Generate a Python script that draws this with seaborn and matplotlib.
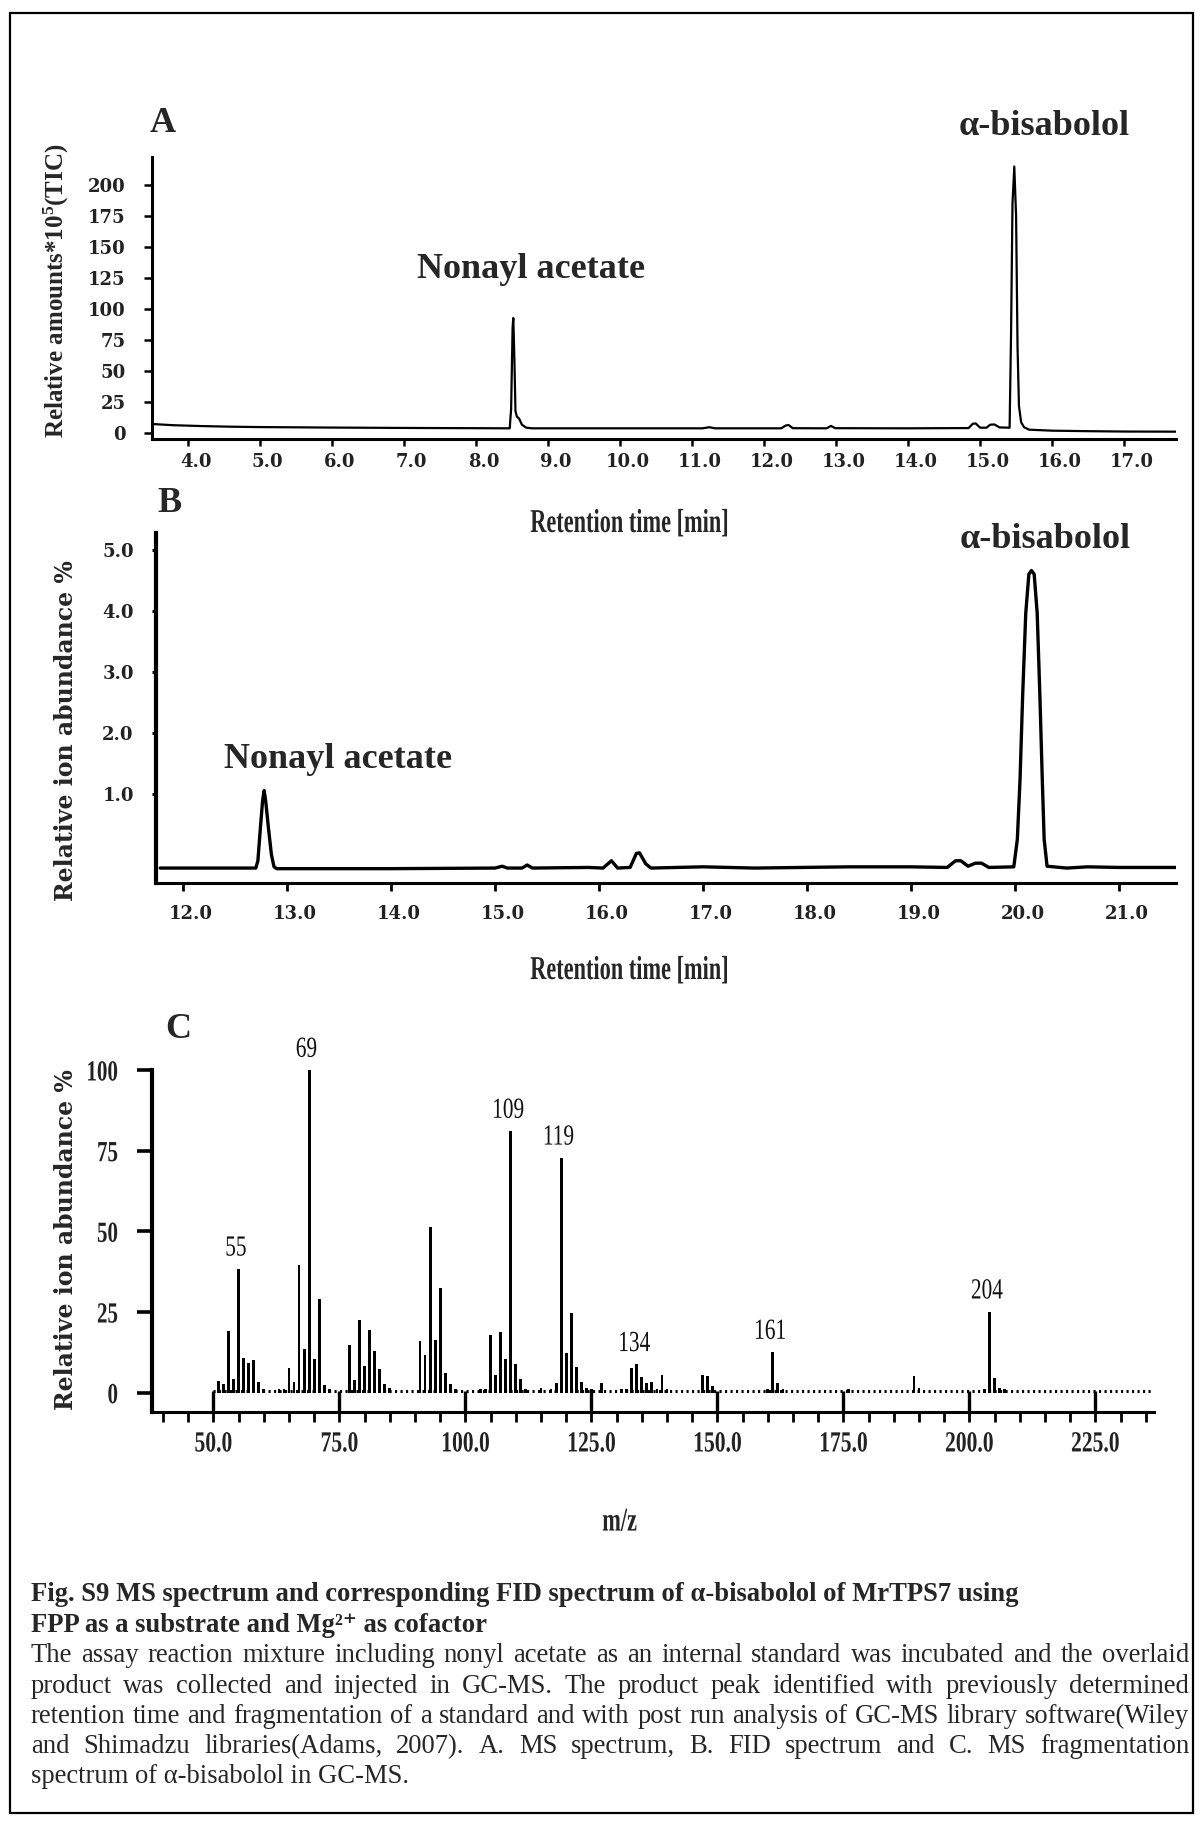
import numpy as np
import matplotlib
matplotlib.use("Agg")
import matplotlib.pyplot as plt
import matplotlib.transforms as mtransforms
from matplotlib.patheffects import AbstractPathEffect
from matplotlib.patches import Rectangle
from matplotlib.path import Path
import seaborn as sns

# ---------------- data ----------------
# A: GC-MS total ion chromatogram (retention time [min], relative amount x10^5)
tic_time = [3.50, 3.80, 4.20, 4.60, 5.00, 6.00, 7.00, 8.00, 8.47, 8.49, 8.51, 8.52,
            8.535, 8.55, 8.57, 8.60, 8.64, 8.70, 8.78, 9.50, 10.50, 11.15, 11.24, 11.32,
            12.24, 12.30, 12.34, 12.40, 12.87, 12.93, 12.99, 14.00, 14.84, 14.90, 14.94,
            15.00, 15.09, 15.14, 15.20, 15.27, 15.41, 15.43, 15.45, 15.475, 15.50, 15.52,
            15.54, 15.57, 15.61, 15.68, 16.00, 16.50, 17.00, 17.72]
tic_signal = [7.6, 6.6, 5.9, 5.4, 5.1, 4.7, 4.4, 4.2, 4.1, 20.0, 85.0, 93.0,
              60.0, 18.0, 13.5, 12.0, 7.0, 4.6, 4.1, 4.1, 4.1, 4.1, 5.0, 4.1,
              4.1, 6.3, 6.8, 4.2, 4.1, 6.0, 4.2, 4.1, 4.3, 7.8, 8.0,
              4.6, 4.6, 7.0, 7.2, 4.8, 4.6, 80.0, 185.0, 215.0, 175.0, 70.0,
              22.0, 9.0, 5.0, 3.0, 2.2, 1.8, 1.5, 1.4]

# B: FID chromatogram (retention time [min], relative ion abundance %)
fid_time = [11.78, 12.50, 12.70, 12.72, 12.745, 12.765, 12.78, 12.795, 12.82, 12.85,
            12.875, 12.90, 14.00, 15.00, 15.07, 15.12, 15.26, 15.31, 15.36, 15.90,
            16.04, 16.12, 16.18, 16.30, 16.36, 16.39, 16.45, 16.50, 17.00, 17.50,
            18.40, 19.00, 19.35, 19.43, 19.48, 19.55, 19.62, 19.68, 19.75, 19.99,
            20.024, 20.05, 20.075, 20.105, 20.135, 20.16, 20.186, 20.215, 20.241,
            20.264, 20.282, 20.31, 20.50, 20.70, 21.00, 21.55]
fid_signal = [-0.22, -0.22, -0.22, -0.10, 0.46, 0.88, 1.05, 0.88, 0.46, 0.00,
              -0.20, -0.23, -0.23, -0.22, -0.19, -0.22, -0.22, -0.17, -0.22, -0.21,
              -0.22, -0.10, -0.22, -0.21, 0.02, 0.03, -0.15, -0.22, -0.20, -0.22,
              -0.20, -0.20, -0.21, -0.10, -0.10, -0.19, -0.14, -0.14, -0.21, -0.20,
              0.25, 1.23, 2.60, 3.96, 4.60, 4.66, 4.60, 3.96, 2.60,
              1.23, 0.25, -0.19, -0.22, -0.20, -0.21, -0.21]

# C: mass spectrum of alpha-bisabolol (m/z, relative ion abundance %)
ms_mz = [51, 52, 53, 54, 55, 56, 57, 58, 59, 60, 63, 64, 65, 66, 67, 68, 69, 70, 71,
         72, 73, 77, 78, 79, 80, 81, 82, 83, 84, 85, 91, 92, 93, 94, 95, 96, 97, 98,
         103, 104, 105, 106, 107, 108, 109, 110, 111, 112, 115, 117, 118, 119, 120,
         121, 122, 123, 124, 125, 127, 131, 132, 133, 134, 135, 136, 137, 138, 139,
         140, 147, 148, 149, 160, 161, 162, 163, 176, 189, 190, 203, 204, 205, 206, 207]
ms_abundance = [3.6, 2.6, 19.0, 4.1, 38.4, 10.8, 9.3, 10.0, 3.3, 1.0, 1.2, 1.0, 7.7,
                3.3, 39.6, 13.4, 100.0, 10.3, 29.0, 2.3, 1.0, 14.7, 3.9, 22.4, 8.3,
                19.3, 12.9, 7.4, 2.6, 1.5, 16.0, 11.6, 51.4, 16.3, 32.3, 6.2, 2.6, 1.0,
                1.0, 1.0, 18.0, 5.6, 18.8, 10.3, 81.1, 8.8, 4.3, 1.0, 1.5, 1.2, 2.9,
                72.8, 12.2, 24.8, 8.0, 3.3, 1.5, 1.2, 3.1, 1.0, 1.2, 7.7, 8.8, 4.9,
                3.1, 3.3, 1.2, 5.6, 1.0, 5.4, 5.2, 2.0, 1.0, 12.6, 3.1, 1.0, 1.0, 5.2,
                1.5, 1.2, 25.1, 4.6, 1.5, 1.0]
ms_labeled = [55, 69, 109, 119, 134, 161, 204]

# axis ticks and limits
a_xticks = [4.0, 5.0, 6.0, 7.0, 8.0, 9.0, 10.0, 11.0, 12.0, 13.0, 14.0, 15.0, 16.0, 17.0]
a_xticklabels = ["4.0", "5.0", "6.0", "7.0", "8.0", "9.0", "10.0", "11.0", "12.0",
                 "13.0", "14.0", "15.0", "16.0", "17.0"]
a_yticks = [0, 25, 50, 75, 100, 125, 150, 175, 200]
a_yticklabels = ["0", "25", "50", "75", "100", "125", "150", "175", "200"]
a_xlim = (3.5, 17.72)
a_ylim = (-4.75, 222.9)

b_xticks = [12.0, 13.0, 14.0, 15.0, 16.0, 17.0, 18.0, 19.0, 20.0, 21.0]
b_xticklabels = ["12.0", "13.0", "14.0", "15.0", "16.0", "17.0", "18.0", "19.0",
                 "20.0", "21.0"]
b_yticks = [1.0, 2.0, 3.0, 4.0, 5.0]
b_yticklabels = ["1.0", "2.0", "3.0", "4.0", "5.0"]
b_xlim = (11.74, 21.55)
b_ylim = (-0.47, 5.28)

c_xticks = [50, 75, 100, 125, 150, 175, 200, 225]
c_xticklabels = ["50.0", "75.0", "100.0", "125.0", "150.0", "175.0", "200.0", "225.0"]
c_xminor = list(range(40, 240, 5))
c_yticks = [0, 25, 50, 75, 100]
c_yticklabels = ["0", "25", "50", "75", "100"]
c_xlim = (37.75, 236.6)
c_ylim = (-5.9, 100.0)


class Condense(AbstractPathEffect):
    """Draw text glyphs squeezed horizontally (a condensed face)."""

    def __init__(self, factor, anchor="center"):
        super().__init__()
        self.factor = factor
        self.anchor = anchor

    def draw_path(self, renderer, gc, tpath, affine, rgbFace=None):
        verts = tpath.vertices
        if tpath.codes is not None:
            verts = verts[tpath.codes != Path.CLOSEPOLY]
        if len(verts):
            xs = affine.transform(verts)[:, 0]
        else:
            xs = np.array([0.0])
        if self.anchor == "right":
            x0 = xs.max()
        elif self.anchor == "left":
            x0 = xs.min()
        else:
            x0 = 0.5 * (xs.min() + xs.max())
        squeeze = mtransforms.Affine2D().translate(-x0, 0).scale(self.factor, 1).translate(x0, 0)
        renderer.draw_path(gc, tpath, affine + squeeze, rgbFace)


# ---------------- figure ----------------
sns.set_style("ticks")
plt.rcParams["font.family"] = ["Liberation Serif", "DejaVu Serif"]
plt.rcParams["mathtext.default"] = "regular"

W, H, DPI = 1200, 1822, 100
fig = plt.figure(figsize=(W / DPI, H / DPI), dpi=DPI)
fig.patch.set_facecolor("white")


def fx(px):
    return px / W


def fy(py):
    return 1 - py / H


def add_axes_px(left, top, right, bottom):
    return fig.add_axes([fx(left), fy(bottom), (right - left) / W, (bottom - top) / H])


TIMES = "Liberation Serif"
WIDE = "DejaVu Serif"
TICKCOL = "#222222"

# frame around the whole figure
fig.add_artist(Rectangle((fx(10), fy(1813)), fx(1193) - fx(10), fy(13) - fy(1813),
                         transform=fig.transFigure, fill=False, lw=1.6, ec="black"))

shift_right = mtransforms.ScaledTranslation(8 / DPI, 0, fig.dpi_scale_trans)


def style_spines(ax, lw_left, lw_bottom):
    for s in ("top", "right"):
        ax.spines[s].set_visible(False)
    ax.spines["left"].set_linewidth(lw_left)
    ax.spines["bottom"].set_linewidth(lw_bottom)
    ax.spines["left"].set_color("black")
    ax.spines["bottom"].set_color("black")
    ax.set_facecolor("none")


# ---------- panel A ----------
ax_a = add_axes_px(151.7, 156.7, 1176, 439.3)
sns.lineplot(x=tic_time, y=tic_signal, ax=ax_a, color="black", lw=1.6,
             estimator=None, sort=False)
ax_a.set_xlim(*a_xlim)
ax_a.set_ylim(*a_ylim)
style_spines(ax_a, 2.2, 2.2)
ax_a.set_xticks(a_xticks, labels=a_xticklabels)
ax_a.set_yticks(a_yticks, labels=a_yticklabels)
ax_a.tick_params(axis="x", bottom=True, direction="out", length=5, width=1.8, pad=5,
                 colors="black")
ax_a.tick_params(axis="y", left=True, direction="out", length=5.8, width=1.8, pad=13,
                 colors="black")
for lab in ax_a.get_xticklabels() + ax_a.get_yticklabels():
    lab.set(fontfamily=WIDE, fontweight="bold", fontsize=13, color=TICKCOL)
for lab in ax_a.get_xticklabels():
    lab.set_transform(lab.get_transform() + shift_right)
ax_a.set_ylabel("Relative amounts*10$^{5}$(TIC)", fontfamily=TIMES, fontweight="bold",
                fontsize=18)
ax_a.yaxis.label.set_va("center")
ax_a.yaxis.set_label_coords(-0.0934, 0.525)
ax_a.set_xlabel("Retention time [min]", fontfamily=TIMES, fontweight="bold", fontsize=24,
                path_effects=[Condense(0.67)])
ax_a.xaxis.label.set_va("baseline")
ax_a.xaxis.set_label_coords(0.467, -0.328)
ax_a.text(8.77, 124.9, "Nonayl acetate", ha="center", va="baseline", fontfamily=TIMES,
          fontweight="bold", fontsize=26, clip_on=False)
ax_a.text(15.89, 240.3, "α-bisabolol", ha="center", va="baseline", fontfamily=TIMES,
          fontweight="bold", fontsize=26, clip_on=False)

# ---------- panel B ----------
ax_b = add_axes_px(156, 532.7, 1176, 883.3)
sns.lineplot(x=fid_time, y=fid_signal, ax=ax_b, color="black", lw=2.4,
             estimator=None, sort=False)
ax_b.lines[-1].set_solid_joinstyle("round")
ax_b.set_xlim(*b_xlim)
ax_b.set_ylim(*b_ylim)
style_spines(ax_b, 3.0, 2.2)
ax_b.set_xticks(b_xticks, labels=b_xticklabels)
ax_b.set_yticks(b_yticks, labels=b_yticklabels)
ax_b.tick_params(axis="x", bottom=True, direction="out", length=5.8, width=2.0, pad=9.5,
                 colors="black")
ax_b.tick_params(axis="y", left=True, direction="out", length=3, width=2.2, pad=13,
                 colors="black")
for lab in ax_b.get_xticklabels() + ax_b.get_yticklabels():
    lab.set(fontfamily=WIDE, fontweight="bold", fontsize=13, color=TICKCOL)
for lab in ax_b.get_xticklabels():
    lab.set_transform(lab.get_transform() + shift_right)
ax_b.set_ylabel("Relative ion abundance %", fontfamily=WIDE, fontweight="bold", fontsize=17)
ax_b.yaxis.label.set_va("center")
ax_b.yaxis.set_label_coords(-0.0882, 0.436)
ax_b.set_xlabel("Retention time [min]", fontfamily=TIMES, fontweight="bold", fontsize=24,
                path_effects=[Condense(0.67)])
ax_b.xaxis.label.set_va("baseline")
ax_b.xaxis.set_label_coords(0.4647, -0.273)
ax_b.text(13.49, 1.42, "Nonayl acetate", ha="center", va="baseline", fontfamily=TIMES,
          fontweight="bold", fontsize=26, clip_on=False)
ax_b.text(20.29, 5.03, "α-bisabolol", ha="center", va="baseline", fontfamily=TIMES,
          fontweight="bold", fontsize=26, clip_on=False)

# ---------- panel C ----------
ax_c = add_axes_px(151.7, 1070, 1153.8, 1411.7)
# noise floor of the spectrum, shown as a dotted run along zero
ax_c.hlines(0.45, min(ms_mz) - 1, c_xlim[1], colors="black", lw=2.2,
            linestyles=(0, (0.7, 1.1)), zorder=1)
sns.barplot(x=ms_mz, y=ms_abundance, ax=ax_c, native_scale=True, width=0.55,
            color="black", saturation=1, errorbar=None, linewidth=0, zorder=2)
ax_c.set_xlim(*c_xlim)
ax_c.set_ylim(*c_ylim)
style_spines(ax_c, 3.0, 2.2)
ax_c.xaxis.remove_overlapping_locs = False
ax_c.set_xticks(c_xticks, labels=c_xticklabels)
ax_c.set_xticks(c_xminor, minor=True)
ax_c.set_yticks(c_yticks, labels=c_yticklabels)
ax_c.tick_params(axis="x", which="major", bottom=True, direction="in", length=15,
                 width=2.4, pad=13.5, colors="black")
ax_c.tick_params(axis="x", which="minor", bottom=True, direction="out", length=7,
                 width=2.0, colors="black")
ax_c.tick_params(axis="y", left=True, direction="out", length=11, width=2.6, pad=13,
                 colors="black")
for lab in ax_c.get_xticklabels():
    lab.set(fontfamily=TIMES, fontweight="bold", fontsize=21, color=TICKCOL,
            path_effects=[Condense(0.74)])
for lab in ax_c.get_yticklabels():
    lab.set(fontfamily=TIMES, fontweight="bold", fontsize=21, color=TICKCOL,
            path_effects=[Condense(0.72, "right")])
ax_c.set_ylabel("Relative ion abundance %", fontfamily=WIDE, fontweight="bold", fontsize=17)
ax_c.yaxis.label.set_va("center")
ax_c.yaxis.set_label_coords(-0.0855, 0.505)
ax_c.set_xlabel("m/z", fontfamily=TIMES, fontweight="bold", fontsize=24,
                path_effects=[Condense(0.67)])
ax_c.xaxis.label.set_va("center")
ax_c.xaxis.set_label_coords(0.467, -0.323)
abund_by_mz = dict(zip(ms_mz, ms_abundance))
for mz in ms_labeled:
    ax_c.annotate(str(mz), xy=(mz, abund_by_mz[mz]), xytext=(-2, 9.5),
                  textcoords="offset points", ha="center", va="baseline",
                  fontfamily=TIMES, fontsize=21, color="#111111",
                  path_effects=[Condense(0.73)], annotation_clip=False)

# ---------- panel letters ----------
for letter, (lx, ly) in {"A": (150, 132), "B": (157, 512), "C": (165, 1038)}.items():
    fig.text(fx(lx), fy(ly), letter, ha="left", va="baseline", fontfamily=TIMES,
             fontweight="bold", fontsize=26)

# ---------- caption ----------
cap_left, cap_right = 30.7, 1189.3
cap_size = 19.2
cap_family = [TIMES, "DejaVu Serif"]
title_lines = [
    "Fig. S9 MS spectrum and corresponding FID spectrum of α-bisabolol of MrTPS7 using",
    "FPP as a substrate and Mg²⁺ as cofactor",
]
body_lines = [
    "The assay reaction mixture including nonyl acetate as an internal standard was incubated and the overlaid",
    "product was collected and injected in GC-MS. The product peak identified with previously determined",
    "retention time and fragmentation of a standard and with post run analysis of GC-MS library software(Wiley",
    "and Shimadzu libraries(Adams, 2007). A. MS spectrum, B. FID spectrum and C. MS fragmentation",
    "spectrum of α-bisabolol in GC-MS.",
]
title_baselines = [1601, 1631.7]
body_baselines = [1661.7, 1692.7, 1722.7, 1752.7, 1783.3]

for line, yb in zip(title_lines, title_baselines):
    fig.text(fx(cap_left), fy(yb), line, ha="left", va="baseline", fontfamily=cap_family,
             fontweight="bold", fontsize=cap_size)

renderer = fig.canvas.get_renderer()
for i, (line, yb) in enumerate(zip(body_lines, body_baselines)):
    if i == len(body_lines) - 1:
        fig.text(fx(cap_left), fy(yb), line, ha="left", va="baseline",
                 fontfamily=cap_family, fontsize=cap_size)
        continue
    words = line.split(" ")
    items = [fig.text(0, fy(yb), w, ha="left", va="baseline", fontfamily=cap_family,
                      fontsize=cap_size) for w in words]
    widths = [t.get_window_extent(renderer=renderer).width for t in items]
    gap = (cap_right - cap_left - sum(widths)) / (len(words) - 1)
    x = cap_left
    for t, w in zip(items, widths):
        t.set_x(fx(x))
        x += w + gap

fig.savefig("out.png", dpi=DPI, facecolor="white")
